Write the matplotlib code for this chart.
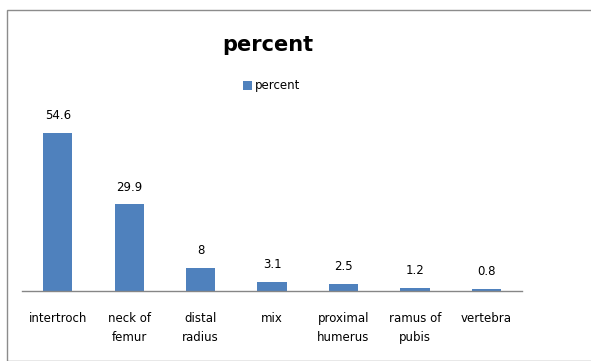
import matplotlib.pyplot as plt
from matplotlib.patches import Rectangle

# Data
categories = ['intertroch', 'neck of\nfemur', 'distal\nradius', 'mix',
              'proximal\nhumerus', 'ramus of\npubis', 'vertebra']
values = [54.6, 29.9, 8, 3.1, 2.5, 1.2, 0.8]
value_labels = ['54.6', '29.9', '8', '3.1', '2.5', '1.2', '0.8']

bar_color = '#4F81BD'

fig = plt.figure(figsize=(5.91, 3.61), dpi=100)
W, H = 591, 361

# Chart frame
fig.patches.append(Rectangle((7 / W, 0), 1, 1 - 10 / H, transform=fig.transFigure,
                             fill=False, edgecolor='#8c8c8c', linewidth=1.0))

# Plot area
ax = fig.add_axes([22 / W, 1 - 291 / H, 500 / W, (291 - 117) / H])
x = range(len(categories))
ax.bar(x, values, width=0.41, color=bar_color, label='percent', zorder=2)
ax.set_xlim(-0.5, len(categories) - 0.5)
ax.set_ylim(0, 60)

for xi, v, lab in zip(x, values, value_labels):
    ax.annotate(lab, (xi, v), xytext=(0, 12.3), textcoords='offset points',
                ha='center', va='center', fontsize=8.5, color='black',
                annotation_clip=False)

ax.set_xticks(list(x))
ax.set_xticklabels(categories, fontsize=8.5, linespacing=1.6, va='top')
ax.tick_params(axis='x', length=0, pad=15)
ax.set_yticks([])
for side in ['top', 'right', 'left']:
    ax.spines[side].set_visible(False)
ax.spines['bottom'].set_color('#868686')
ax.spines['bottom'].set_linewidth(1.0)

# Title and legend
fig.text(268 / W, 1 - 45 / H, 'percent', ha='center', va='center',
         fontsize=15, fontweight='bold')
fig.legend(loc='center', bbox_to_anchor=(272 / W, 1 - 86 / H), frameon=False,
           fontsize=8.5, handlelength=0.7, handleheight=0.7, handletextpad=0.3)

plt.savefig('out.png', dpi=100)
